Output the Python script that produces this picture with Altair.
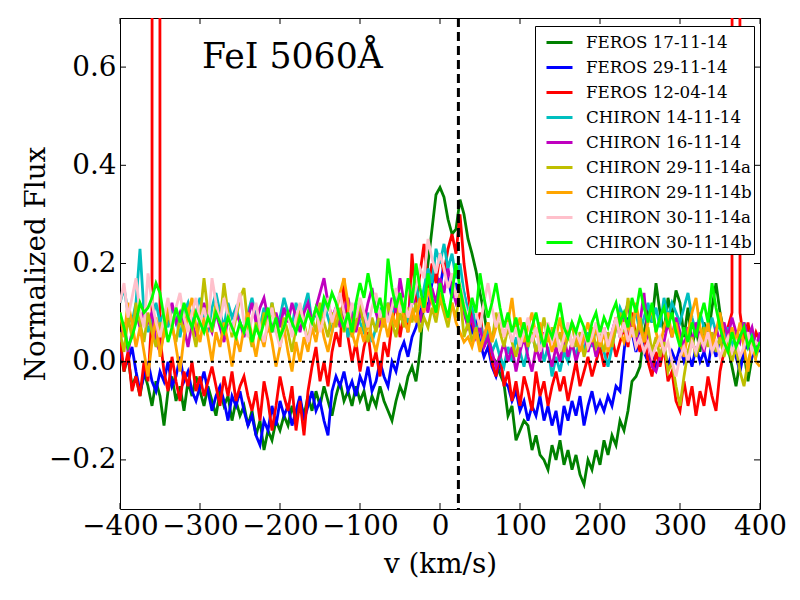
import altair as alt
import pandas as pd

SERIF = "DejaVu Serif"

# velocity grid (km/s) shared by all spectra
velocity = list(range(-400, 405, 5))

feros_17_11_14 = [
    0.03, -0.02, 0.01, -0.05, -0.03, -0.07, -0.02, -0.05, -0.09, -0.04, -0.07, -0.13, -0.06, -0.03, -0.08, -0.05, -0.1, -0.04, -0.07, -0.03,
    -0.06, -0.09, -0.05, -0.08, -0.11, -0.06, -0.09, -0.07, -0.12, -0.08, -0.11, -0.09, -0.13, -0.1, -0.15, -0.12, -0.18, -0.14, -0.16, -0.12,
    -0.14, -0.11, -0.13, -0.09, -0.12, -0.08, -0.11, -0.07, -0.1, -0.06, -0.09, -0.05, -0.08, -0.11, -0.07, -0.04, -0.08, -0.06, -0.09, -0.05,
    -0.08, -0.06, -0.1, -0.07, -0.09, -0.05, -0.08, -0.1, -0.12, -0.08, -0.05, -0.07, -0.03, -0.01, -0.04, 0.02, 0.13, 0.2, 0.27, 0.34,
    0.355, 0.335, 0.29, 0.26, 0.27, 0.33, 0.3, 0.25, 0.22, 0.185, 0.14, 0.1, 0.045, 0.01, 0.0, -0.025, -0.045, -0.11, -0.09, -0.16,
    -0.14, -0.12, -0.13, -0.18, -0.15, -0.19, -0.2, -0.22, -0.17, -0.2, -0.16, -0.21, -0.18, -0.22, -0.19, -0.23, -0.25, -0.2, -0.22, -0.18,
    -0.21, -0.16, -0.19, -0.15, -0.17, -0.12, -0.14, -0.1, -0.04, -0.03, -0.01, 0.06, 0.1, 0.08, 0.16, 0.1, 0.06, 0.13, 0.09, 0.145,
    0.12, 0.05, 0.11, 0.03, 0.07, 0.02, 0.08, 0.05, 0.11, 0.16, 0.1, 0.06, 0.03, -0.01, -0.05, 0.0, 0.02, -0.04, 0.01, 0.03,
    0.05,
]
feros_29_11_14 = [
    0.02, -0.01, 0.0, 0.03, -0.02, -0.06, -0.03, 0.0, -0.04, -0.06, -0.02, -0.04, 0.0, -0.05, -0.03, 0.01, -0.04, -0.02, -0.06, -0.08,
    -0.05, -0.02, -0.06, -0.1, -0.07, -0.05, -0.08, -0.12, -0.07, -0.09, -0.06, -0.1, -0.13, -0.11, -0.15, -0.17, -0.12, -0.14, -0.09, -0.13,
    -0.08, -0.11, -0.09, -0.13, -0.1, -0.07, -0.12, -0.09, -0.06, -0.1, -0.08, -0.12, -0.15, -0.06, -0.03, -0.05, -0.02, -0.06, -0.04, -0.07,
    -0.03, -0.05, -0.01, -0.06, -0.04, 0.0, -0.03, -0.05, 0.0, -0.02, 0.02, 0.04, 0.01, 0.05, 0.07, 0.1, 0.13, 0.11, 0.16, 0.18,
    0.15, 0.2, 0.17, 0.13, 0.16, 0.12, 0.14, 0.1, 0.06, 0.08, 0.04, 0.01, 0.03, -0.01, -0.03, 0.0, -0.04, -0.05, -0.08, -0.06,
    -0.1, -0.08, -0.12, -0.09, -0.11, -0.07, -0.12, -0.09, -0.13, -0.1, -0.15, -0.09, -0.12, -0.08, -0.11, -0.07, -0.13, -0.09, -0.06, -0.1,
    -0.08, -0.1, -0.07, -0.09, -0.05, -0.06, 0.02, 0.09, 0.06, 0.02, 0.06, 0.02, 0.0, 0.03, -0.01, 0.01, 0.03, -0.01, 0.02, 0.0,
    0.03, 0.0, 0.02, -0.01, 0.03, 0.0, 0.02, -0.01, 0.04, 0.01, 0.05, 0.02, 0.06, 0.03, 0.01, -0.02, 0.02, 0.04, 0.01, 0.03,
    0.02,
]
feros_12_04_14 = [
    0.05, -0.02, 0.02, -0.06, -0.03, -0.07, 0.0, -0.04, 0.1, 30.0, 0.05, -0.02, -0.06, 0.01, -0.04, -0.08, -0.02, -0.05, 0.0, -0.06,
    -0.03, -0.07, -0.04, -0.01, -0.05, -0.09, -0.03, -0.07, -0.02, -0.08, -0.05, -0.03, -0.07, -0.1, -0.06, -0.12, -0.04, -0.08, -0.14, -0.09,
    -0.03, -0.07, -0.1, -0.05, -0.14, -0.08, -0.15, -0.06, -0.01, 0.03, -0.04, 0.0, -0.05, 0.02, 0.06, 0.03, 0.17, 0.05, 0.0, 0.04,
    -0.02, 0.03, 0.06, -0.01, 0.02, -0.03, 0.04, 0.01, 0.08, 0.12, 0.05, 0.1, 0.06, 0.22, 0.12, 0.18, 0.24, 0.15, 0.2, 0.16,
    0.22, 0.18, 0.23, 0.26, 0.22, 0.3, 0.2, 0.14, 0.08, 0.05, 0.1, 0.03, 0.06, 0.0, -0.03, 0.02, -0.05, -0.02, -0.08, -0.04,
    -0.09, -0.03, -0.06, -0.1, -0.02, -0.07, -0.04, -0.09, -0.05, -0.02, -0.06, -0.03, -0.08, -0.04, 0.0, -0.05, -0.02, 0.01, -0.03, 0.0,
    0.03, -0.01, 0.02, 0.05, 0.01, 0.04, 0.07, 0.03, 0.1, 0.05, 0.02, 0.06, 0.0, -0.03, 0.02, -0.01, 0.03, -0.04, -0.02, -0.08,
    -0.1, -0.04, -0.09, -0.05, -0.11, -0.06, -0.09, -0.03, -0.07, -0.1, -0.02, 0.02, 0.07, 0.1, 30.0, 0.1, 0.04, 0.08, 0.03, 0.06,
    0.04,
]
chiron_14_11_14 = [
    0.12, 0.15, 0.1, 0.08, 0.12, 0.23, 0.1, 0.06, 0.09, 0.12, 0.08, 0.1, 0.07, 0.11, 0.09, 0.05, 0.1, 0.12, 0.08, 0.1,
    0.13, 0.09, 0.06, 0.11, 0.14, 0.1, 0.07, 0.12, 0.09, 0.11, 0.08, 0.06, 0.1, 0.13, 0.09, 0.07, 0.11, 0.08, 0.12, 0.06,
    0.09, 0.13, 0.1, 0.07, 0.12, 0.09, 0.11, 0.14, 0.08, 0.1, 0.07, 0.12, 0.09, 0.06, 0.11, 0.08, 0.1, 0.05, 0.09, 0.12,
    0.08, 0.06, 0.1, 0.04, 0.07, 0.11, 0.08, 0.12, 0.09, 0.14, 0.1, 0.13, 0.08, 0.12, 0.16, 0.11, 0.15, 0.19, 0.16, 0.23,
    0.2, 0.24, 0.19, 0.22, 0.17, 0.2, 0.14, 0.1, 0.12, 0.06, 0.08, 0.04, 0.06, 0.02, 0.04, 0.01, -0.01, 0.03, 0.0, 0.05,
    0.02, -0.01, 0.03, 0.06, 0.02, 0.05, 0.0, 0.03, -0.03, 0.01, -0.02, 0.02, 0.0, 0.04, 0.01, 0.05, 0.02, 0.06, 0.03, 0.07,
    0.04, 0.02, -0.01, 0.03, 0.07, 0.11, 0.09, 0.12, 0.08, 0.1, 0.06, 0.09, 0.12, 0.08, 0.11, 0.07, 0.13, 0.09, 0.12, 0.1,
    0.08, 0.11, 0.14, 0.09, 0.06, 0.1, 0.07, 0.05, 0.09, 0.06, 0.08, 0.04, 0.07, 0.03, 0.06, 0.05, 0.08, 0.04, 0.06, 0.03,
    0.05,
]
chiron_16_11_14 = [
    0.04, 0.08, 0.02, 0.06, 0.1, 0.07, 0.11, 0.08, 0.1, 0.04, 0.02, 0.06, 0.09, 0.12, 0.08, 0.1, 0.07, 0.03, 0.08, 0.05,
    0.09, 0.12, 0.08, 0.06, 0.1, 0.07, 0.04, 0.09, 0.06, 0.1, 0.08, 0.05, 0.09, 0.12, 0.08, 0.11, 0.13, 0.09, 0.06, 0.1,
    0.07, 0.11, 0.08, 0.12, 0.09, 0.06, 0.1, 0.12, 0.08, 0.11, 0.14, 0.17, 0.12, 0.09, 0.11, 0.07, 0.1, 0.13, 0.09, 0.06,
    0.1, 0.08, 0.12, 0.15, 0.1, 0.07, 0.11, 0.09, 0.13, 0.1, 0.17, 0.12, 0.09, 0.14, 0.11, 0.08, 0.13, 0.1, 0.15, 0.12,
    0.17, 0.14, 0.19, 0.15, 0.12, 0.14, 0.1, 0.07, 0.09, 0.05, 0.07, 0.03, 0.05, 0.02, -0.01, 0.01, 0.04, 0.0, 0.03, -0.02,
    0.02, 0.05, 0.01, -0.02, 0.03, 0.0, 0.06, 0.02, -0.01, 0.03, 0.0, 0.05, 0.01, 0.04, 0.0, 0.03, 0.06, 0.02, 0.05, 0.01,
    0.04, 0.07, 0.03, 0.06, 0.09, 0.05, 0.08, 0.12, 0.07, 0.04, 0.08, 0.14, 0.05, -0.01, -0.02, 0.01, 0.04, 0.08, 0.05, 0.09,
    0.06, 0.03, 0.07, 0.04, 0.08, 0.05, 0.02, 0.06, 0.03, 0.07, 0.04, 0.08, 0.05, 0.09, 0.06, 0.04, 0.08, 0.05, 0.07, 0.03,
    0.06,
]
chiron_29_11_14a = [
    0.06, 0.02, 0.09, 0.05, 0.12, 0.08, 0.04, 0.1, 0.06, 0.03, 0.08, 0.05, 0.1, 0.07, 0.04, 0.09, 0.06, 0.11, 0.07, 0.03,
    0.09, 0.17, 0.1, 0.06, 0.12, 0.08, 0.16, 0.1, 0.05, 0.09, 0.13, 0.15, 0.07, 0.03, 0.08, 0.05, 0.1, 0.06, 0.12, 0.08,
    0.04, 0.09, 0.06, 0.02, 0.07, 0.11, 0.08, 0.04, 0.09, 0.06, 0.12, 0.08, 0.05, 0.1, 0.07, 0.11, 0.06, 0.09, 0.05, 0.08,
    0.12, 0.07, 0.04, 0.09, 0.06, 0.1, 0.07, 0.12, 0.08, 0.05, 0.1, 0.07, 0.11, 0.08, 0.12, 0.06, 0.09, 0.07, 0.11, 0.08,
    0.13, 0.1, 0.07, 0.12, 0.09, 0.14, 0.05, 0.08, 0.04, 0.07, 0.03, 0.05, 0.08, 0.04, 0.1, 0.06, 0.03, 0.07, 0.04, 0.01,
    0.05, 0.08, 0.03, 0.06, 0.02, 0.05, 0.09, 0.04, 0.07, 0.03, 0.06, 0.02, 0.05, 0.08, 0.03, 0.06, 0.01, 0.04, 0.07, 0.03,
    0.05, 0.02, 0.06, 0.03, 0.07, 0.1, 0.06, 0.13, 0.08, 0.05, 0.09, 0.04, 0.07, 0.02, 0.05, 0.01, 0.04, -0.02, 0.0, -0.05,
    -0.09, -0.03, 0.02, 0.05, 0.01, 0.04, 0.07, 0.03, 0.06, 0.02, 0.05, 0.01, 0.04, 0.0, 0.03, -0.02, -0.05, 0.0, 0.03, 0.01,
    0.04,
]
chiron_29_11_14b = [
    0.1, 0.05, 0.12, 0.08, 0.03, 0.07, 0.02, -0.03, 0.04, 0.09, 0.01, 0.06, 0.12, 0.08, 0.03, -0.02, 0.05, 0.1, 0.13, 0.07,
    0.04, 0.09, 0.05, 0.0, 0.06, 0.03, 0.08, 0.04, -0.01, 0.05, 0.02, 0.07, 0.1, 0.05, 0.01, 0.06, 0.03, 0.08, 0.04, -0.01,
    0.03, 0.07, 0.02, -0.02, 0.04, 0.0, 0.05, 0.02, 0.07, 0.04, 0.09, 0.05, 0.02, 0.06, 0.1, 0.14, 0.17, 0.12, 0.06, 0.03,
    0.07, 0.04, 0.08, 0.05, 0.02, 0.06, 0.09, 0.05, 0.1, 0.07, 0.13, 0.09, 0.06, 0.11, 0.08, 0.13, 0.1, 0.15, 0.12, 0.1,
    0.14, 0.11, 0.09, 0.12, 0.08, 0.06, 0.04, 0.05, 0.03, 0.06, 0.02, 0.05, 0.08, 0.04, 0.07, 0.1, 0.05, 0.08, 0.13, 0.06,
    0.09, 0.04, 0.07, 0.1, 0.05, 0.08, 0.03, 0.06, 0.02, 0.05, 0.09, 0.04, 0.07, 0.03, 0.06, 0.02, 0.05, 0.08, 0.04, 0.07,
    0.03, 0.06, 0.02, 0.05, 0.09, 0.06, 0.04, 0.08, 0.05, 0.12, 0.07, 0.04, 0.08, 0.11, 0.06, 0.03, 0.07, 0.1, 0.05, 0.08,
    0.04, 0.01, 0.06, 0.1, 0.13, 0.07, 0.04, 0.08, 0.03, 0.06, 0.1, 0.05, 0.02, 0.07, 0.04, 0.08, 0.03, -0.02, 0.04, 0.0,
    -0.01,
]
chiron_30_11_14a = [
    0.12, 0.16, 0.09, 0.13, 0.17, 0.1, 0.07, 0.18, 0.12, 0.08, 0.05, 0.09, 0.13, 0.07, 0.11, 0.14, 0.09, 0.06, 0.1, 0.13,
    0.08, 0.11, 0.07, 0.17, 0.12, 0.08, 0.13, 0.09, 0.06, 0.1, 0.14, 0.08, 0.05, 0.09, 0.12, 0.07, 0.04, 0.08, 0.11, 0.06,
    0.03, 0.07, 0.1, 0.05, 0.09, 0.12, 0.07, 0.04, 0.08, 0.11, 0.06, 0.09, 0.13, 0.08, 0.11, 0.14, 0.1, 0.07, 0.12, 0.09,
    0.13, 0.1, 0.07, 0.11, 0.14, 0.09, 0.12, 0.08, 0.11, 0.15, 0.1, 0.13, 0.09, 0.12, 0.15, 0.19, 0.17, 0.25, 0.21, 0.18,
    0.22, 0.19, 0.15, 0.18, 0.13, 0.16, 0.12, 0.09, 0.13, 0.1, 0.07, 0.12, 0.16, 0.11, 0.07, 0.1, 0.05, 0.08, 0.04, 0.07,
    0.03, 0.06, 0.09, 0.04, 0.07, 0.02, 0.05, 0.08, 0.04, 0.06, 0.02, 0.05, 0.08, 0.03, 0.06, 0.04, 0.07, 0.03, 0.05, 0.08,
    0.04, 0.07, 0.03, 0.06, 0.09, 0.05, 0.08, 0.04, 0.07, 0.03, 0.05, 0.02, 0.04, 0.01, 0.03, 0.05, 0.02, 0.04, 0.0, -0.03,
    0.01, 0.03, 0.0, 0.04, 0.02, 0.05, 0.03, 0.06, 0.02, 0.04, 0.01, 0.03, 0.05, 0.02, 0.04, 0.01, 0.03, 0.06, 0.02, 0.04,
    0.03,
]
chiron_30_11_14b = [
    0.1, 0.07, 0.03, 0.05, 0.08, 0.12, 0.1, 0.11, 0.13, 0.16, 0.14, 0.09, 0.04, 0.07, 0.11, 0.08, 0.12, 0.09, 0.07, 0.1,
    0.08, 0.06, 0.09, 0.07, 0.1, 0.08, 0.06, 0.09, 0.07, 0.05, 0.08, 0.06, 0.09, 0.04, 0.07, 0.05, 0.08, 0.11, 0.06, 0.09,
    0.05, 0.07, 0.1, 0.08, 0.06, 0.09, 0.07, 0.1, 0.08, 0.11, 0.09, 0.13, 0.11, 0.14, 0.12, 0.09, 0.07, 0.1, 0.06, 0.12,
    0.16, 0.13, 0.18, 0.14, 0.1, 0.13, 0.09, 0.21, 0.15, 0.11, 0.14, 0.1, 0.17, 0.12, 0.2, 0.15, 0.11, 0.18, 0.13, 0.1,
    0.16, 0.12, 0.09, 0.14, 0.2, 0.15, 0.11, 0.08, 0.13, 0.1, 0.18, 0.13, 0.09, 0.12, 0.16, 0.11, 0.07, 0.1, 0.06, 0.09,
    0.05, 0.08, 0.04, 0.07, 0.1, 0.06, 0.03, 0.07, 0.05, 0.08, 0.12, 0.07, 0.05, 0.08, 0.06, 0.09, 0.07, 0.04, 0.08, 0.1,
    0.06, 0.09, 0.07, 0.1, 0.12, 0.08, 0.1, 0.07, 0.13, 0.1, 0.15, 0.11, 0.08, 0.12, 0.06, 0.09, 0.11, 0.07, 0.1, 0.06,
    0.03, 0.07, 0.04, 0.08, 0.05, 0.09, 0.12, 0.08, 0.16, 0.11, 0.07, 0.04, 0.02, 0.06, 0.03, 0.05, 0.07, 0.03, 0.05, 0.02,
    0.04,
]

series_names = [
    "FEROS 17-11-14",
    "FEROS 29-11-14",
    "FEROS 12-04-14",
    "CHIRON 14-11-14",
    "CHIRON 16-11-14",
    "CHIRON 29-11-14a",
    "CHIRON 29-11-14b",
    "CHIRON 30-11-14a",
    "CHIRON 30-11-14b",
]
series_values = [
    feros_17_11_14, feros_29_11_14, feros_12_04_14,
    chiron_14_11_14, chiron_16_11_14, chiron_29_11_14a,
    chiron_29_11_14b, chiron_30_11_14a, chiron_30_11_14b,
]
series_colors = [
    "#008000", "#0000FF", "#FF0000", "#00BFBF", "#BF00BF",
    "#BFBF00", "#FFA500", "#FFC0CB", "#00FF00",
]

x_ticks = [-400, -300, -200, -100, 0, 100, 200, 300, 400]
y_ticks = [-0.2, 0.0, 0.2, 0.4, 0.6]
v_line = [23]
zero_line = [0.0]
line_label = "FeI 5060Å"

W, H = 640, 491
TICK = 6

rows = []
for name, vals in zip(series_names, series_values):
    assert len(vals) == len(velocity), (name, len(vals))
    for v, f in zip(velocity, vals):
        rows.append({"v": v, "flux": f, "series": name})
spectra = pd.DataFrame(rows)

x_scale = alt.Scale(domain=[-400, 400], nice=False, zero=False)
y_scale = alt.Scale(domain=[-0.3, 0.7], nice=False, zero=False)

# one axis definition, reused by every layer so the merge keeps it
x_axis = alt.Axis(
    values=x_ticks, format="d", title="v (km/s)",
    labelPadding=3, titleY=63, titleBaseline="alphabetic",
    labelOverlap=False, labelFlush=False,
)
y_axis = alt.Axis(
    values=y_ticks, format=".1f", title="Normalized Flux",
    labelPadding=4, titleX=-76, titleY=H / 2,
    titleBaseline="alphabetic", labelOverlap=False, labelFlush=False,
)
X = alt.X("v:Q", scale=x_scale, axis=x_axis)
Y = alt.Y("flux:Q", scale=y_scale, axis=y_axis)

lines = (
    alt.Chart(spectra)
    .mark_line(strokeWidth=2.8, clip=True)
    .encode(
        x=X,
        y=Y,
        color=alt.Color(
            "series:N",
            scale=alt.Scale(domain=series_names, range=series_colors),
            sort=series_names,
            legend=alt.Legend(
                title=None, orient="none", legendX=415, legendY=8,
                symbolType="stroke", symbolSize=676, symbolStrokeWidth=3,
                symbolOffset=8, labelOffset=12, labelFont=SERIF,
                labelFontSize=16.7, labelColor="black", labelLimit=300,
                rowPadding=1, padding=2, strokeColor="black",
                fillColor="white", cornerRadius=0,
            ),
        ),
    )
)

zero_rule = (
    alt.Chart(pd.DataFrame({"flux": zero_line}))
    .mark_rule(color="black", strokeWidth=2, strokeDash=[3, 4])
    .encode(y=Y)
)

vel_rule = (
    alt.Chart(pd.DataFrame({"v": v_line}))
    .mark_rule(color="black", strokeWidth=3, strokeDash=[9, 5])
    .encode(x=X)
)

# inward ticks on all four sides, like the classic matplotlib frame
xt = pd.DataFrame({"v": x_ticks})
yt = pd.DataFrame({"flux": y_ticks})
tick_style = dict(color="black", strokeWidth=1)
bottom_ticks = alt.Chart(xt).mark_rule(**tick_style).encode(
    x=X, y=alt.value(H), y2=alt.value(H - TICK)
)
top_ticks = alt.Chart(xt).mark_rule(**tick_style).encode(
    x=X, y=alt.value(0), y2=alt.value(TICK)
)
left_ticks = alt.Chart(yt).mark_rule(**tick_style).encode(
    y=Y, x=alt.value(0), x2=alt.value(TICK)
)
right_ticks = alt.Chart(yt).mark_rule(**tick_style).encode(
    y=Y, x=alt.value(W), x2=alt.value(W - TICK)
)

label = (
    alt.Chart(pd.DataFrame({"label": [line_label]}))
    .mark_text(font=SERIF, fontSize=34.7, align="left", baseline="alphabetic", color="black")
    .encode(text="label:N", x=alt.value(82), y=alt.value(50))
)

chart = (
    alt.layer(lines, zero_rule, vel_rule, bottom_ticks, top_ticks, left_ticks, right_ticks, label)
    .properties(
        width=W,
        height=H,
        autosize=alt.AutoSizeParams(type="none"),
        padding={"left": 112, "top": 10, "right": 30, "bottom": 82},
    )
    .configure_view(stroke="black", strokeWidth=1)
    .configure_axis(
        labelFont=SERIF, labelFontSize=27.8, labelColor="black",
        titleFont=SERIF, titleFontSize=27.8, titleFontWeight="normal", titleColor="black",
        ticks=False, tickSize=0, domain=False, grid=False,
    )
)

chart.save("out.html", embed_options={"renderer": "svg", "actions": False})
